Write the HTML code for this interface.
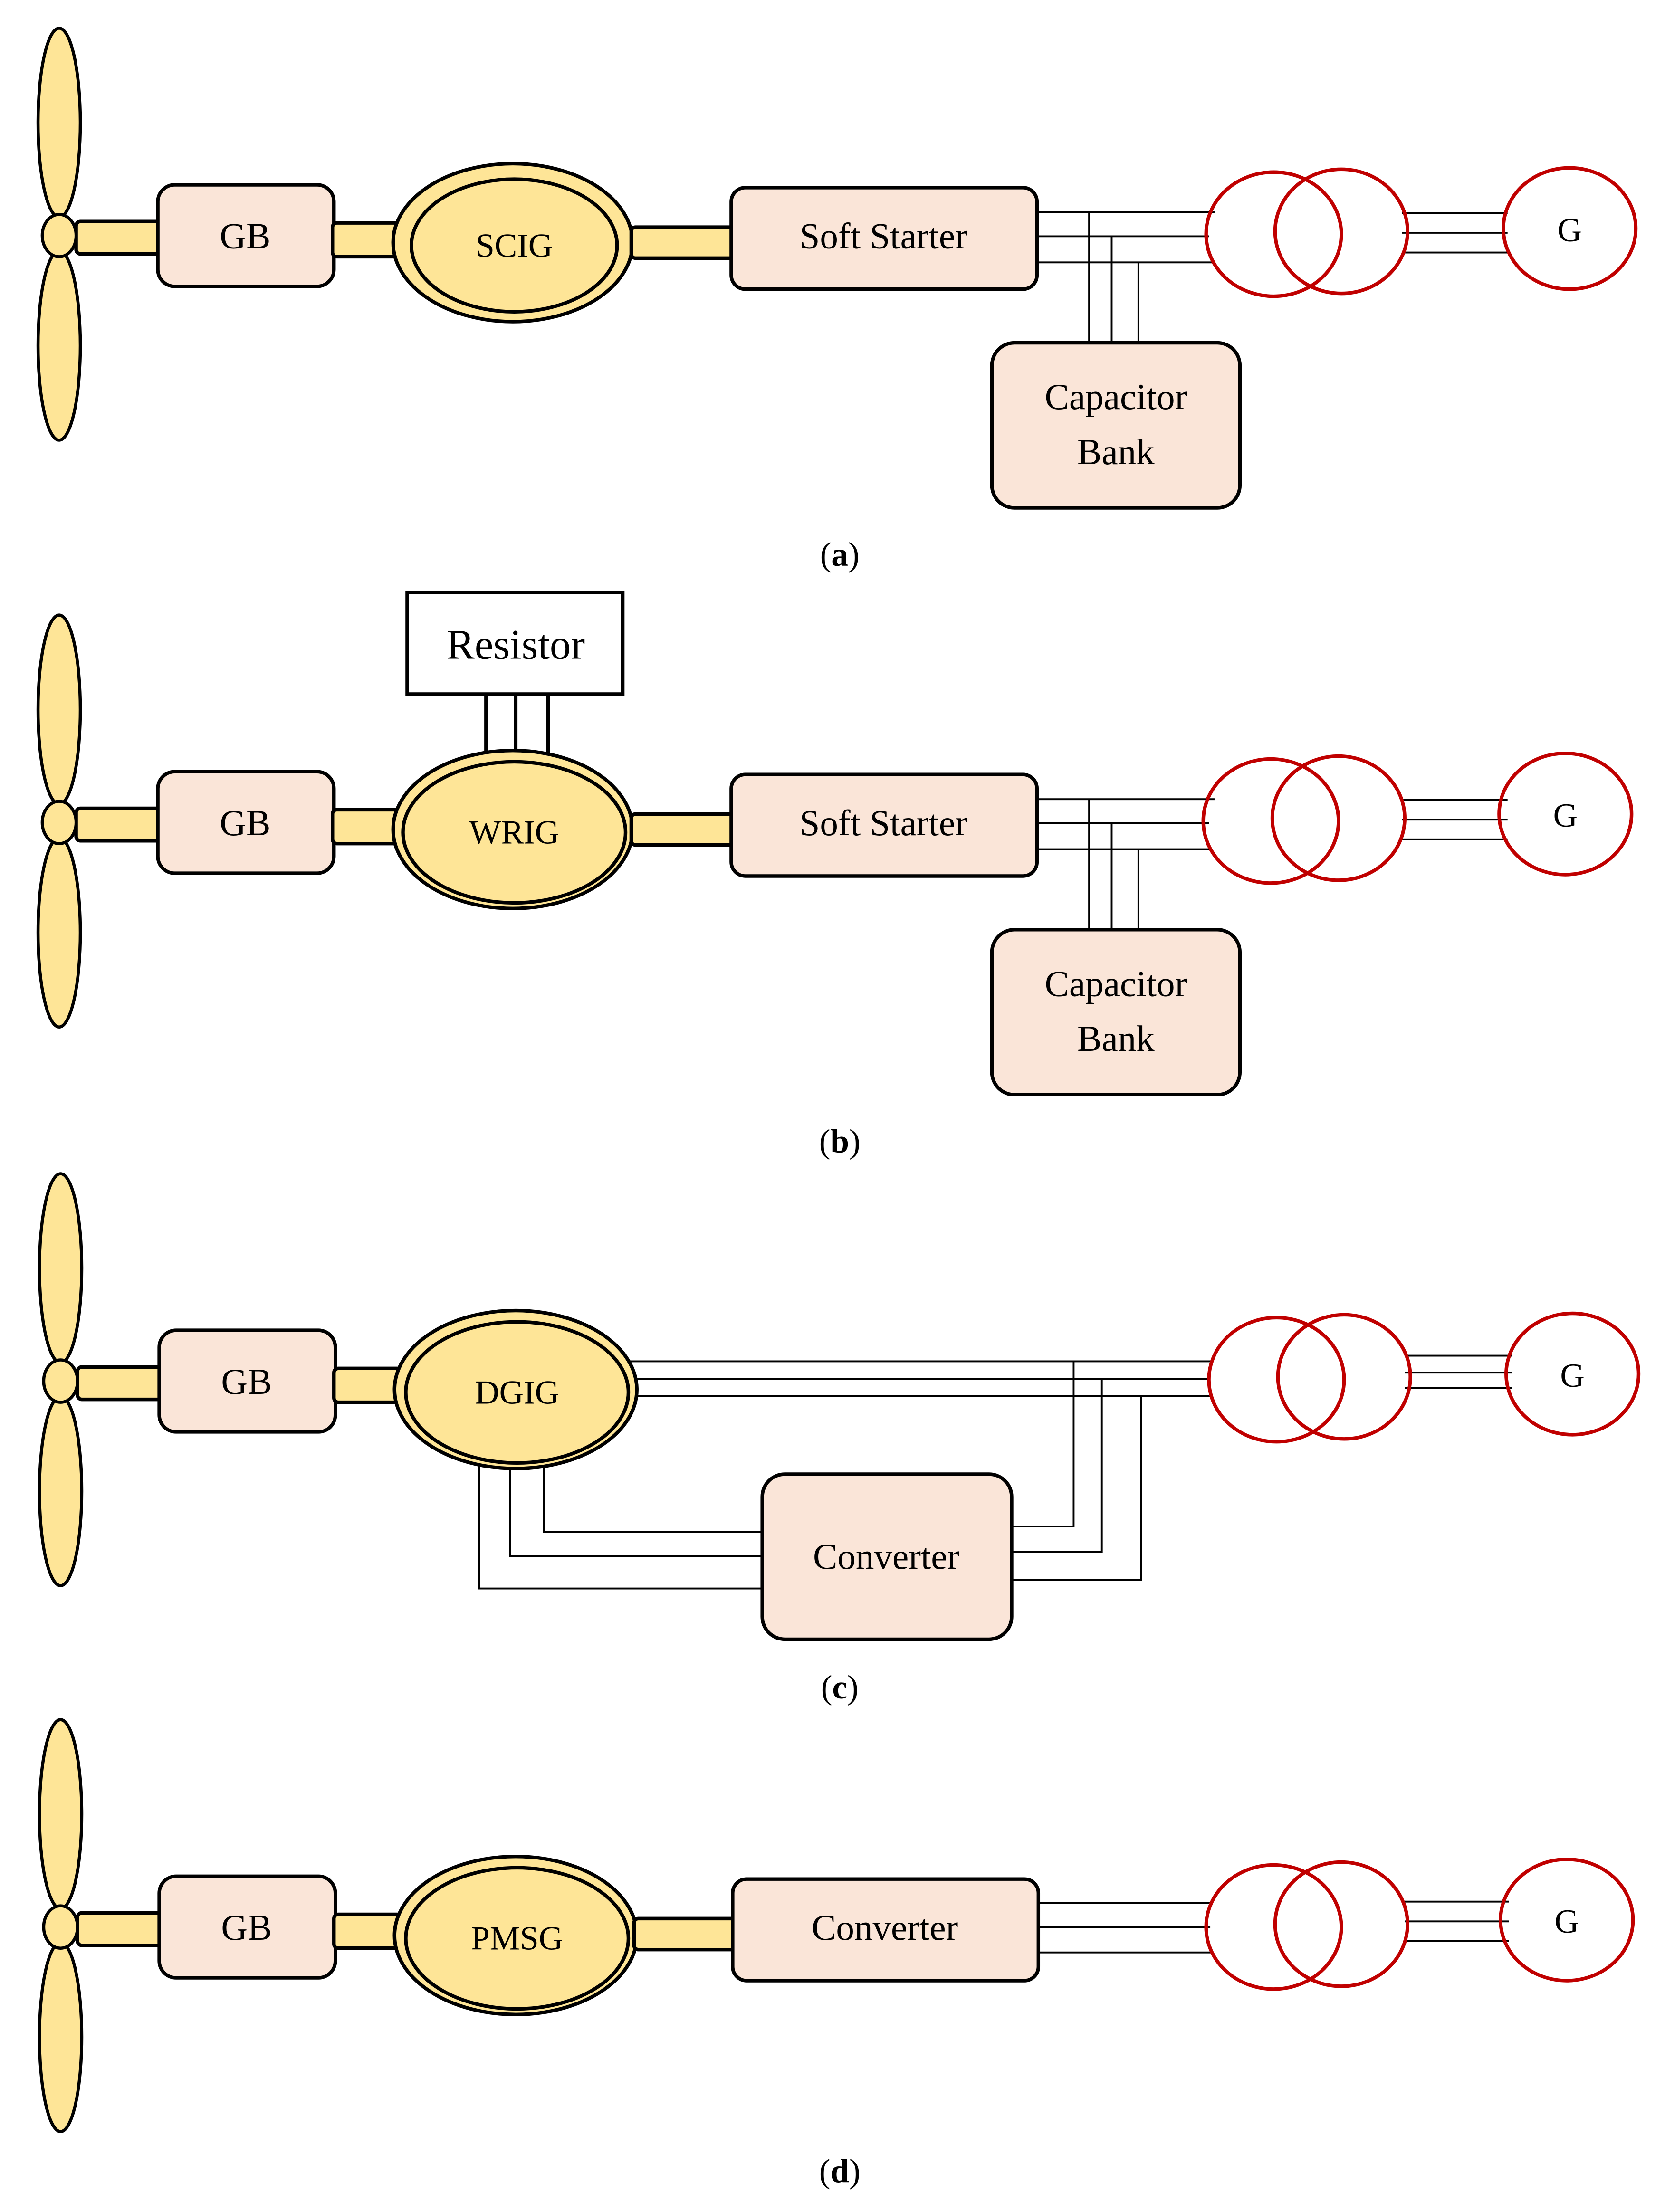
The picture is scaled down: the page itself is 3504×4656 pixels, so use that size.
<!DOCTYPE html>
<html><head><meta charset="utf-8"><style>
html,body{margin:0;padding:0;background:#fff;}
svg{display:block;}
text{font-family:"Liberation Serif",serif;fill:#000;}
</style></head><body>
<svg width="3504" height="4656" viewBox="0 0 1190 1568" preserveAspectRatio="none" xmlns="http://www.w3.org/2000/svg">
<defs>
<g id="turb">
  <ellipse cx="42" cy="87" rx="15" ry="67" fill="#fee597" stroke="#000" stroke-width="2.2"/>
  <ellipse cx="42" cy="245" rx="15" ry="67" fill="#fee597" stroke="#000" stroke-width="2.2"/>
  <rect x="54" y="157" width="62" height="23" rx="3" fill="#fee597" stroke="#000" stroke-width="2.5"/>
  <ellipse cx="42" cy="167" rx="12" ry="15" fill="#fee597" stroke="#000" stroke-width="2.2"/>
  <rect x="112" y="131" width="125" height="72" rx="12" fill="#fae5d8" stroke="#000" stroke-width="2.5"/>
  <text x="174" y="176" font-size="26" text-anchor="middle">GB</text>
  <rect x="236" y="158" width="48" height="24" rx="3" fill="#fee597" stroke="#000" stroke-width="2.5"/>
</g>
<g id="trafo">
  <ellipse cx="0" cy="0" rx="48" ry="44" fill="none" stroke="#c00000" stroke-width="2.5"/>
  <ellipse cx="48" cy="-2" rx="47" ry="44" fill="none" stroke="#c00000" stroke-width="2.5"/>
</g>
</defs>
<g transform="scale(1.007,1)">
<!-- (a) -->
<use href="#turb"/>
<ellipse cx="364" cy="172" rx="85" ry="56" fill="#fee597" stroke="#000" stroke-width="2.5"/>
<ellipse cx="365" cy="174" rx="73" ry="47" fill="#fee597" stroke="#000" stroke-width="2.5"/>
<text x="365" y="182" font-size="24" text-anchor="middle">SCIG</text>
<rect x="448" y="161" width="73" height="22" rx="3" fill="#fee597" stroke="#000" stroke-width="2.5"/>
<g stroke="#000" stroke-width="1.3" fill="none">
<path d="M736 150.5H862M736 167.5H858M736 186H860"/>
<path d="M773 150.5V243M789 167.5V243M808 186V243"/>
<path d="M995 151H1070M995 165H1070M995 179H1070"/>
</g>
<rect x="519" y="133" width="217" height="72" rx="10" fill="#fae5d8" stroke="#000" stroke-width="2.5"/>
<text x="627" y="176" font-size="26" text-anchor="middle">Soft Starter</text>
<rect x="704" y="243" width="176" height="117" rx="16" fill="#fae5d8" stroke="#000" stroke-width="2.5"/>
<text x="792" y="290" font-size="26" text-anchor="middle">Capacitor</text>
<text x="792" y="329" font-size="26" text-anchor="middle">Bank</text>
<use href="#trafo" transform="translate(904,166)"/>
<ellipse cx="1114" cy="162" rx="47" ry="43" fill="none" stroke="#c00000" stroke-width="2.5"/>
<text x="1114" y="171" font-size="24" text-anchor="middle">G</text>
<text x="596" y="401" font-size="24" text-anchor="middle">(<tspan font-weight="bold">a</tspan>)</text>

<!-- (b) -->
<g transform="translate(0,416)">
<use href="#turb"/>
<g stroke="#000" stroke-width="2.6"><path d="M345 76V120M366 76V120M389 76V120"/></g>
<rect x="289" y="4" width="153" height="72" fill="#fff" stroke="#000" stroke-width="2.5"/>
<text x="366" y="51" font-size="30" text-anchor="middle">Resistor</text>
<ellipse cx="364" cy="172" rx="85" ry="56" fill="#fee597" stroke="#000" stroke-width="2.5"/>
<ellipse cx="365" cy="174" rx="79" ry="50" fill="#fee597" stroke="#000" stroke-width="2.5"/>
<text x="365" y="182" font-size="24" text-anchor="middle">WRIG</text>
<rect x="448" y="161" width="73" height="22" rx="3" fill="#fee597" stroke="#000" stroke-width="2.5"/>
<g stroke="#000" stroke-width="1.3" fill="none">
<path d="M736 150.5H862M736 167.5H858M736 186H860"/>
<path d="M773 150.5V243M789 167.5V243M808 186V243"/>
<path d="M995 151H1070M995 165H1070M995 179H1070"/>
</g>
<rect x="519" y="133" width="217" height="72" rx="10" fill="#fae5d8" stroke="#000" stroke-width="2.5"/>
<text x="627" y="176" font-size="26" text-anchor="middle">Soft Starter</text>
<rect x="704" y="243" width="176" height="117" rx="16" fill="#fae5d8" stroke="#000" stroke-width="2.5"/>
<text x="792" y="290" font-size="26" text-anchor="middle">Capacitor</text>
<text x="792" y="329" font-size="26" text-anchor="middle">Bank</text>
<use href="#trafo" transform="translate(902,166)"/>
<ellipse cx="1111" cy="161" rx="47" ry="43" fill="none" stroke="#c00000" stroke-width="2.5"/>
<text x="1111" y="170" font-size="24" text-anchor="middle">G</text>
<text x="596" y="401" font-size="24" text-anchor="middle">(<tspan font-weight="bold">b</tspan>)</text>
</g>

<!-- (c) -->
<g transform="translate(1,812)">
<use href="#turb"/>
<g stroke="#000" stroke-width="1.3" fill="none">
<path d="M440 153H860M440 165.5H858M440 177.5H860"/>
<path d="M761 153V270H718M781 165.5V288H718M809 177.5V308H718"/>
<path d="M339 215V314H541M361 215V291H541M385 215V274H541"/>
<path d="M996 149H1072M996 161H1072M996 172H1072"/>
</g>
<ellipse cx="365" cy="173" rx="86" ry="56" fill="#fee597" stroke="#000" stroke-width="2.5"/>
<ellipse cx="366" cy="175" rx="79" ry="50" fill="#fee597" stroke="#000" stroke-width="2.5"/>
<text x="366" y="183" font-size="24" text-anchor="middle">DGIG</text>
<rect x="540" y="233" width="177" height="117" rx="16" fill="#fae5d8" stroke="#000" stroke-width="2.5"/>
<text x="628" y="300" font-size="26" text-anchor="middle">Converter</text>
<use href="#trafo" transform="translate(905,166)"/>
<ellipse cx="1115" cy="162" rx="47" ry="43" fill="none" stroke="#c00000" stroke-width="2.5"/>
<text x="1115" y="171" font-size="24" text-anchor="middle">G</text>
<text x="595" y="392" font-size="24" text-anchor="middle">(<tspan font-weight="bold">c</tspan>)</text>
</g>

<!-- (d) -->
<g transform="translate(1,1199)">
<use href="#turb"/>
<ellipse cx="365" cy="173" rx="86" ry="56" fill="#fee597" stroke="#000" stroke-width="2.5"/>
<ellipse cx="366" cy="175" rx="79" ry="50" fill="#fee597" stroke="#000" stroke-width="2.5"/>
<text x="366" y="183" font-size="24" text-anchor="middle">PMSG</text>
<rect x="449" y="161" width="72" height="22" rx="3" fill="#fee597" stroke="#000" stroke-width="2.5"/>
<g stroke="#000" stroke-width="1.3" fill="none">
<path d="M736 150H860M736 167H858M736 185H860"/>
<path d="M996 149H1070M996 163H1070M996 177H1070"/>
</g>
<rect x="519" y="133" width="217" height="72" rx="10" fill="#fae5d8" stroke="#000" stroke-width="2.5"/>
<text x="627" y="176" font-size="26" text-anchor="middle">Converter</text>
<use href="#trafo" transform="translate(903,167)"/>
<ellipse cx="1111" cy="162" rx="47" ry="43" fill="none" stroke="#c00000" stroke-width="2.5"/>
<text x="1111" y="171" font-size="24" text-anchor="middle">G</text>
<text x="595" y="348" font-size="24" text-anchor="middle">(<tspan font-weight="bold">d</tspan>)</text>
</g>
</g>
</svg>
</body></html>
